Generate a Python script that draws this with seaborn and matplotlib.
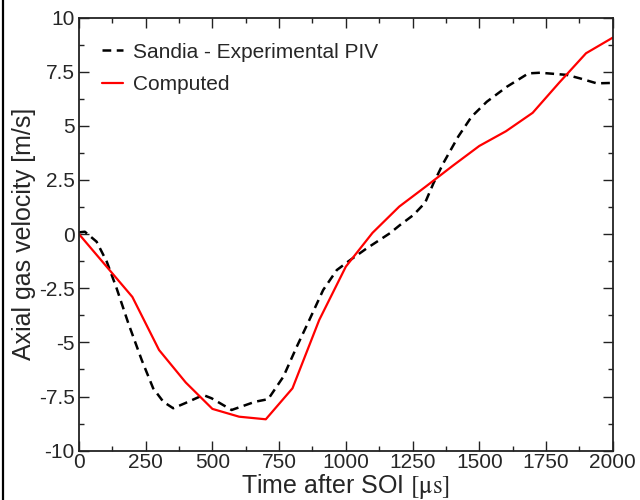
import matplotlib
matplotlib.use("Agg")
import matplotlib.pyplot as plt
from matplotlib.lines import Line2D
from matplotlib.ticker import MultipleLocator, FixedLocator
import numpy as np
import pandas as pd
import seaborn as sns

# Sandia experimental PIV measurement (time in microseconds, velocity in m/s)
exp_time = [0, 22, 66, 104, 141, 185, 235, 278, 316, 353, 397, 466, 497,
            572, 660, 709, 766, 816, 866, 915, 966, 1016, 1078, 1165, 1203,
            1253, 1297, 1328, 1365, 1421, 1471, 1528, 1603, 1684, 1728,
            1828, 1877, 1940, 2000]
exp_vel = [0.08, 0.11, -0.35, -1.27, -2.5, -4.12, -5.81, -7.12, -7.74, -8.04,
           -7.81, -7.43, -7.58, -8.12, -7.74, -7.62, -6.58, -5.2, -3.89,
           -2.58, -1.66, -1.2, -0.66, 0.04, 0.42, 0.88, 1.45, 2.34, 3.27,
           4.5, 5.42, 6.11, 6.8, 7.42, 7.45, 7.35, 7.19, 6.96, 6.98]

# Computed axial gas velocity
cmp_time = [0, 100, 200, 300, 400, 500, 600, 700, 800, 900, 1000, 1100,
            1200, 1300, 1400, 1500, 1600, 1700, 1800, 1900, 2000]
cmp_vel = [0.0, -1.45, -2.9, -5.35, -6.85, -8.07, -8.43, -8.55, -7.12, -3.97,
           -1.5, 0.06, 1.27, 2.2, 3.15, 4.07, 4.75, 5.6, 7.0, 8.35, 9.07]

x_ticks = [0, 250, 500, 750, 1000, 1250, 1500, 1750, 2000]
y_ticks = [-10, -7.5, -5, -2.5, 0, 2.5, 5, 7.5, 10]
x_tick_labels = ["0", "250", "500", "750", "1000", "1250", "1500", "1750", "2000"]
y_tick_labels = ["-10", "-7.5", "-5", "-2.5", "0", "2.5", "5", "7.5", "10"]

sns.set_style("ticks")
plt.rcParams["font.family"] = ["Liberation Sans", "DejaVu Sans"]
plt.rcParams["mathtext.fontset"] = "stix"

df_exp = pd.DataFrame({"t": exp_time, "v": exp_vel})
df_cmp = pd.DataFrame({"t": cmp_time, "v": cmp_vel})

fig = plt.figure(figsize=(6.4, 5.0), dpi=100)
ax = fig.add_axes([0.1234, 0.0986, 0.9574 - 0.1234, 0.965 - 0.0986])

sns.lineplot(data=df_exp, x="t", y="v", ax=ax, color="black", lw=1.8,
             linestyle=(0, (3.5, 2.2)), label="Sandia - Experimental PIV",
             sort=False)
sns.lineplot(data=df_cmp, x="t", y="v", ax=ax, color="#ff0000", lw=1.6,
             label="Computed", sort=False)

ax.set_xlim(0, 2000)
ax.set_ylim(-10, 10)
ax.xaxis.set_major_locator(FixedLocator(x_ticks))
ax.set_xticklabels(x_tick_labels)
ax.yaxis.set_major_locator(FixedLocator(y_ticks))
ax.set_yticklabels(y_tick_labels)
ax.xaxis.set_minor_locator(MultipleLocator(125))
ax.yaxis.set_minor_locator(MultipleLocator(1.25))

ax.tick_params(which="both", direction="in", top=True, right=True,
               color="#222222", width=1.0)
ax.tick_params(which="major", length=7, labelsize=15, pad=3)
ax.tick_params(which="minor", length=3.8)
ax.tick_params(axis="x", which="major", pad=2)
for sp in ax.spines.values():
    sp.set_linewidth(1.3)
    sp.set_color("#222222")

ax.set_xlabel("Time after SOI $[\\mathrm{\\mu s}]$", fontsize=18, labelpad=0)
ax.set_ylabel("Axial gas velocity [m/s]", fontsize=18, labelpad=2)

leg = ax.legend(loc="upper left", bbox_to_anchor=(0.043, 0.942), frameon=False,
                fontsize=15, handlelength=1.0, handletextpad=0.5,
                labelspacing=0.65, borderaxespad=0, borderpad=0)

# Frame line along the left edge of the figure
fig.add_artist(Line2D([0.005, 0.005], [0, 1], transform=fig.transFigure,
                      color="black", lw=1.6))

fig.savefig("out.png", dpi=100)
